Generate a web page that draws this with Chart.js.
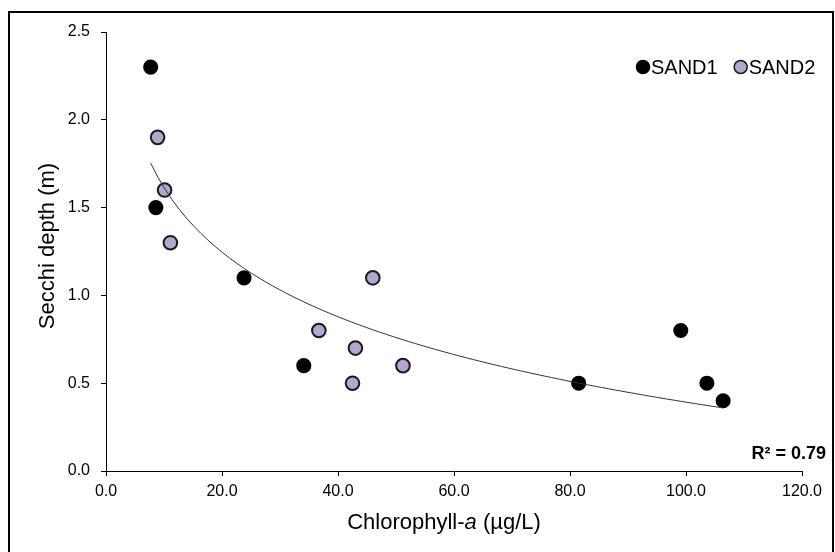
<!DOCTYPE html>
<html>
<head>
<meta charset="utf-8">
<script src="https://cdn.jsdelivr.net/npm/chart.js@4/dist/chart.umd.min.js"></script>
<style>
  html, body { margin: 0; padding: 0; background: #fff; }
  #wrap { position: relative; width: 835px; height: 552px; }
</style>
</head>
<body>
<div id="wrap"><canvas id="c" width="835" height="552"></canvas></div>
<script>
// Chlorophyll-a (µg/L) and Secchi depth (m) for the two sites
const chlaSand1   = [7.7, 8.6, 23.8, 34.1, 81.5, 99.1, 103.6, 106.4];
const secchiSand1 = [2.3, 1.5, 1.1, 0.6, 0.5, 0.8, 0.5, 0.4];
const chlaSand2   = [8.9, 10.1, 11.1, 36.7, 42.5, 43.0, 46.0, 51.2];
const secchiSand2 = [1.9, 1.6, 1.3, 0.8, 0.5, 0.7, 1.1, 0.6];

const seriesNames = ['SAND1', 'SAND2'];
const xTicks = [0, 20, 40, 60, 80, 100, 120];
const yTicks = [0, 0.5, 1.0, 1.5, 2.0, 2.5];
const xTitle = ['Chlorophyll-', 'a', ' (\u00b5g/L)'];
const yTitle = 'Secchi depth (m)';
const r2Label = 'R\u00b2 = 0.79';

const FONT = "'Liberation Sans', Arial, Helvetica, sans-serif";

function toPoints(xs, ys) { return xs.map((x, i) => ({ x: x, y: ys[i] })); }

// Logarithmic least-squares fit  y = a·ln(x) + b  over both sites
const allX = chlaSand1.concat(chlaSand2);
const allY = secchiSand1.concat(secchiSand2);
const lx = allX.map(Math.log);
const n = lx.length;
const mL = lx.reduce((s, v) => s + v, 0) / n;
const mY = allY.reduce((s, v) => s + v, 0) / n;
let sxy = 0, sxx = 0;
for (let i = 0; i < n; i++) { sxy += (lx[i] - mL) * (allY[i] - mY); sxx += (lx[i] - mL) ** 2; }
const slope = sxy / sxx;
const intercept = mY - slope * mL;
const xMin = Math.min(...allX), xMax = Math.max(...allX);
const fitLine = [];
for (let k = 0; k <= 80; k++) {
  const x = xMin + (xMax - xMin) * k / 80;
  fitLine.push({ x: x, y: slope * Math.log(x) + intercept });
}

// Outer frame, axis titles, legend and R² text
const decorations = {
  id: 'decorations',
  afterDraw(chart) {
    const ctx = chart.ctx;
    ctx.save();

    // frame
    ctx.strokeStyle = '#000';
    ctx.lineWidth = 2;
    ctx.strokeRect(9, 12, 824, 560);

    ctx.fillStyle = '#000';

    // y title
    ctx.save();
    ctx.translate(48, 246);
    ctx.rotate(-Math.PI / 2);
    ctx.font = '22px ' + FONT;
    ctx.textAlign = 'center';
    ctx.textBaseline = 'middle';
    ctx.fillText(yTitle, 0, 0);
    ctx.restore();

    // x title with italic "a"
    const fonts = ['22px ' + FONT, 'italic 22px ' + FONT, '22px ' + FONT];
    const widths = xTitle.map((t, i) => { ctx.font = fonts[i]; return ctx.measureText(t).width; });
    const total = widths.reduce((s, v) => s + v, 0);
    let tx = 444 - total / 2;
    ctx.textAlign = 'left';
    ctx.textBaseline = 'alphabetic';
    xTitle.forEach((t, i) => { ctx.font = fonts[i]; ctx.fillText(t, tx, 529); tx += widths[i]; });

    // legend
    ctx.font = '20px ' + FONT;
    ctx.textBaseline = 'middle';
    let lxp = 643;
    chart.data.datasets.filter(d => seriesNames.includes(d.label)).forEach(d => {
      ctx.beginPath();
      ctx.arc(lxp, 67, 6.5, 0, Math.PI * 2);
      ctx.fillStyle = d.backgroundColor;
      ctx.fill();
      ctx.lineWidth = 1.5;
      ctx.strokeStyle = d.borderColor;
      ctx.stroke();
      ctx.fillStyle = '#000';
      ctx.fillText(d.label, lxp + 8, 68);
      lxp += 8 + ctx.measureText(d.label).width + 23;
    });

    // R²
    ctx.font = 'bold 18px ' + FONT;
    ctx.textAlign = 'right';
    ctx.textBaseline = 'alphabetic';
    ctx.fillText(r2Label, 826, 459);

    ctx.restore();
  }
};

new Chart(document.getElementById('c'), {
  data: {
    datasets: [
      {
        type: 'line',
        label: 'fit',
        data: fitLine,
        borderColor: '#333',
        borderWidth: 1,
        pointRadius: 0,
        fill: false,
        tension: 0
      },
      {
        type: 'scatter',
        label: seriesNames[0],
        data: toPoints(chlaSand1, secchiSand1),
        backgroundColor: '#000',
        borderColor: '#000',
        borderWidth: 1.5,
        pointRadius: 6.8
      },
      {
        type: 'scatter',
        label: seriesNames[1],
        data: toPoints(chlaSand2, secchiSand2),
        backgroundColor: '#b4a6cf',
        borderColor: '#1a1a1a',
        borderWidth: 2,
        pointRadius: 6.8
      }
    ]
  },
  options: {
    responsive: false,
    animation: false,
    layout: { padding: { left: 0, top: 32, right: 33, bottom: 0 } },
    plugins: { legend: { display: false }, tooltip: { enabled: false } },
    scales: {
      x: {
        type: 'linear',
        min: 0, max: 120,
        afterBuildTicks(scale) { scale.ticks = xTicks.map(v => ({ value: v })); },
        afterFit(scale) { scale.height = 81; },
        ticks: {
          color: '#000',
          font: { family: FONT, size: 16 },
          padding: 6,
          maxRotation: 0,
          callback: v => Number(v).toFixed(1)
        },
        grid: { drawOnChartArea: false, drawTicks: true, tickLength: 5, tickColor: '#000', tickWidth: 1 },
        border: { display: true, color: '#000', width: 1 }
      },
      y: {
        type: 'linear',
        min: 0, max: 2.5,
        afterBuildTicks(scale) { scale.ticks = yTicks.map(v => ({ value: v })); },
        afterFit(scale) { scale.width = 106; },
        ticks: {
          color: '#000',
          font: { family: FONT, size: 16 },
          padding: 11,
          callback: v => Number(v).toFixed(1)
        },
        grid: { drawOnChartArea: false, drawTicks: true, tickLength: 5, tickColor: '#000', tickWidth: 1 },
        border: { display: true, color: '#000', width: 1 }
      }
    }
  },
  plugins: [decorations]
});
</script>
</body>
</html>
